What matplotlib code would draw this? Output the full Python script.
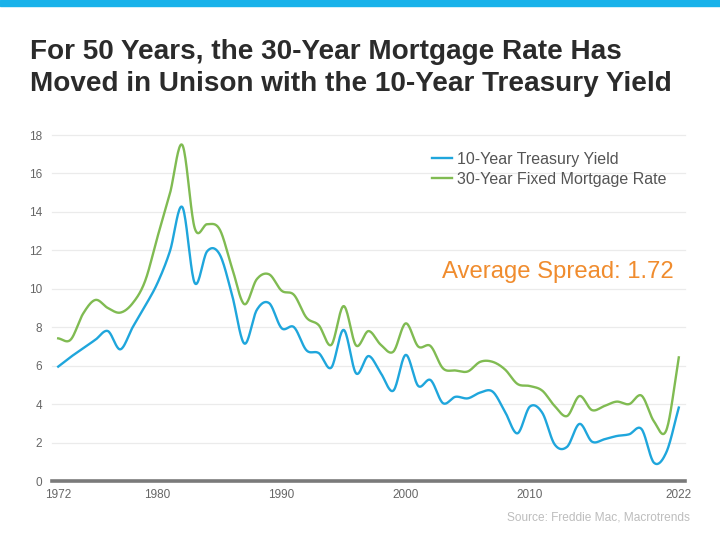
import matplotlib
matplotlib.use("Agg")
import matplotlib.pyplot as plt
import numpy as np
from matplotlib.patches import Rectangle

plt.rcParams["font.family"] = ["Liberation Sans", "DejaVu Sans"]

years = np.arange(1972, 2023)

treasury_10y = [
    5.95, 6.45, 6.9, 7.35, 7.8, 6.85, 8.0, 9.1, 10.3, 11.95,
    14.25, 10.3, 11.95, 11.8, 9.7, 7.15, 8.9, 9.25, 7.95, 8.0,
    6.8, 6.65, 5.9, 7.86, 5.6, 6.5, 5.6, 4.7, 6.56, 4.95,
    5.25, 4.05, 4.38, 4.3, 4.6, 4.65, 3.6, 2.48, 3.87, 3.55,
    1.9, 1.78, 2.97, 2.05, 2.17, 2.34, 2.43, 2.7, 0.95, 1.5,
    3.82,
]
mortgage_30y = [
    7.42, 7.35, 8.7, 9.42, 9.0, 8.76, 9.25, 10.4, 12.7, 14.95,
    17.48, 13.15, 13.36, 13.1, 11.1, 9.2, 10.5, 10.75, 9.9, 9.68,
    8.5, 8.1, 7.08, 9.1, 7.05, 7.8, 7.08, 6.73, 8.2, 7.0,
    7.02, 5.86, 5.75, 5.7, 6.2, 6.2, 5.8, 5.05, 4.94, 4.7,
    3.9, 3.38, 4.42, 3.69, 3.9, 4.13, 4.0, 4.44, 3.1, 2.65,
    6.43,
]

x_ticks = [1972, 1980, 1990, 2000, 2010, 2022]
y_ticks = list(range(0, 19, 2))

BLUE = "#1fa6dc"
GREEN = "#80bb52"
ORANGE = "#f08c2e"


def smooth(x, y, n=20):
    # catmull-rom through the yearly points, like a smoothed office chart line
    x = np.asarray(x, float)
    y = np.asarray(y, float)
    px = np.concatenate([[2 * x[0] - x[1]], x, [2 * x[-1] - x[-2]]])
    py = np.concatenate([[2 * y[0] - y[1]], y, [2 * y[-1] - y[-2]]])
    t = np.linspace(0, 1, n, endpoint=False)
    xs, ys = [], []
    for i in range(1, len(px) - 2):
        for p, out in ((px, xs), (py, ys)):
            p0, p1, p2, p3 = p[i - 1], p[i], p[i + 1], p[i + 2]
            c1 = p1 + (p2 - p0) / 6
            c2 = p2 - (p3 - p1) / 6
            out.append((1 - t) ** 3 * p1 + 3 * (1 - t) ** 2 * t * c1
                       + 3 * (1 - t) * t ** 2 * c2 + t ** 3 * p2)
    xs.append([x[-1]])
    ys.append([y[-1]])
    return np.concatenate(xs), np.concatenate(ys)


fig = plt.figure(figsize=(7.2, 5.39), dpi=100)
fig.patch.set_facecolor("white")
fig.patches.append(Rectangle((0, 1 - 6 / 539), 1, 6 / 539, transform=fig.transFigure,
                             color="#19b2ea", zorder=5))

fig.text(30 / 720, 1 - 39 / 539,
         "For 50 Years, the 30-Year Mortgage Rate Has\nMoved in Unison with the 10-Year Treasury Yield",
         fontsize=20.1, fontweight="bold", color="#2b2b2b", va="top", ha="left",
         linespacing=1.3)

ax = fig.add_axes([52 / 720, 1 - 481 / 539, (685 - 52) / 720, (481 - 135) / 539])
ax.set_xlim(1971.5, 2022.5)
ax.set_ylim(0, 18)

for v in y_ticks[1:]:
    ax.axhline(v, color="#ebebeb", linewidth=0.9, zorder=0, clip_on=False)

sx, sy = smooth(years, treasury_10y)
ax.plot(sx, sy, color=BLUE, linewidth=1.7, label="10-Year Treasury Yield", zorder=3)
sx, sy = smooth(years, mortgage_30y)
ax.plot(sx, sy, color=GREEN, linewidth=1.7, label="30-Year Fixed Mortgage Rate", zorder=3)

for side in ("top", "right", "left"):
    ax.spines[side].set_visible(False)
ax.spines["bottom"].set_color("#7a7a7a")
ax.spines["bottom"].set_linewidth(2.6)

ax.set_xticks(x_ticks)
ax.set_yticks(y_ticks)
ax.tick_params(axis="both", length=0, labelsize=8.5, labelcolor="#666666")
ax.tick_params(axis="x", pad=6)
ax.tick_params(axis="y", pad=7)

leg = ax.legend(loc="upper left", bbox_to_anchor=(0.591, 0.97), frameon=False,
                fontsize=11.5, handlelength=1.2, handletextpad=0.35, labelspacing=0.3,
                borderaxespad=0)
for t in leg.get_texts():
    t.set_color("#555555")

ax.text(0.982, 0.603, "Average Spread: 1.72", transform=ax.transAxes, fontsize=17.2,
        color=ORANGE, ha="right", va="center")

fig.text(690 / 720, 1 - 518 / 539, "Source: Freddie Mac, Macrotrends", fontsize=8.6,
         color="#bdbdbd", ha="right", va="center")

fig.savefig("out.png", dpi=100)
